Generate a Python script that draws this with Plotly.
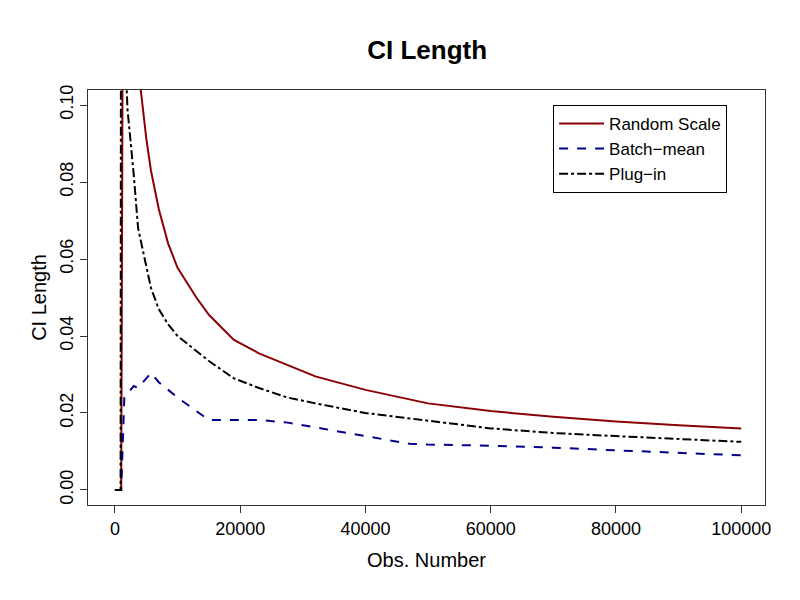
import plotly.graph_objects as go

obs = [0, 900, 1000, 1500, 2000, 3000, 3700, 5000, 5750, 7000, 8500, 10000, 13000, 15000,
       19000, 23000, 27600, 32000, 40000, 47000, 50000, 60000, 70000, 80000, 90000, 100000]
random_scale = [0, 0, 0, 0.25, 0.15, 0.125, 0.11, 0.0914, 0.083, 0.073, 0.064, 0.0577, 0.05, 0.0455,
                0.039, 0.0355, 0.0325, 0.0295, 0.026, 0.0235, 0.0225, 0.0205, 0.019, 0.0178, 0.0168, 0.016]
batch_mean = [0, 0, 0, 0.024, 0.025, 0.027, 0.0265, 0.029, 0.0304, 0.028, 0.026, 0.024, 0.0205, 0.0182,
              0.0182, 0.0182, 0.0175, 0.0162, 0.014, 0.012, 0.0118, 0.0115, 0.011, 0.0103, 0.0097, 0.009]
plug_in = [0, 0, 0.2, 0.12, 0.099, 0.082, 0.068, 0.058, 0.0525, 0.047, 0.043, 0.040, 0.036, 0.0335,
           0.029, 0.0265, 0.024, 0.0225, 0.020, 0.0185, 0.018, 0.016, 0.0148, 0.014, 0.0132, 0.0125]
x_ticks = [0, 20000, 40000, 60000, 80000, 100000]
y_ticks = [0, 0.02, 0.04, 0.06, 0.08, 0.1]

fig = go.Figure()
fig.add_trace(go.Scatter(x=obs, y=random_scale, mode="lines", name="Random Scale",
                         line=dict(color="#8B0000", width=2)))
fig.add_trace(go.Scatter(x=obs, y=batch_mean, mode="lines", name="Batch\u2212mean",
                         line=dict(color="#00008B", width=2, dash="dash")))
fig.add_trace(go.Scatter(x=obs, y=plug_in, mode="lines", name="Plug\u2212in",
                         line=dict(color="black", width=2, dash="dashdot")))

axis_style = dict(showline=True, linecolor="#333", linewidth=1, mirror=True, ticks="outside",
                  ticklen=7, tickcolor="#333", showgrid=False, zeroline=False, automargin=False,
                  tickfont=dict(size=18, color="black"))
fig.update_xaxes(range=[-4300, 103800], tickvals=x_ticks, ticktext=[str(v) for v in x_ticks],
                 title=dict(text="Obs. Number", font=dict(size=20, color="black")), **axis_style)
fig.update_yaxes(range=[-0.0039, 0.1039], tickvals=y_ticks, ticktext=["%.2f" % v for v in y_ticks],
                 tickangle=-90,
                 title=dict(text="CI Length", font=dict(size=20, color="black"), standoff=4), **axis_style)

fig.update_layout(
    width=800, height=600, plot_bgcolor="white", paper_bgcolor="white",
    font=dict(family="Liberation Sans, Arial", color="black"),
    title=dict(text="<b>CI Length</b>", x=0.524, xanchor="center", y=0.93, yanchor="middle",
               font=dict(size=26)),
    margin=dict(l=80, r=43, t=82, b=103),
    legend=dict(x=0.687, y=0.964, xanchor="left", yanchor="top", bordercolor="black",
                borderwidth=1, font=dict(size=17), bgcolor="white", itemwidth=45,
                tracegroupgap=2),
)

fig.write_html("out.html")
